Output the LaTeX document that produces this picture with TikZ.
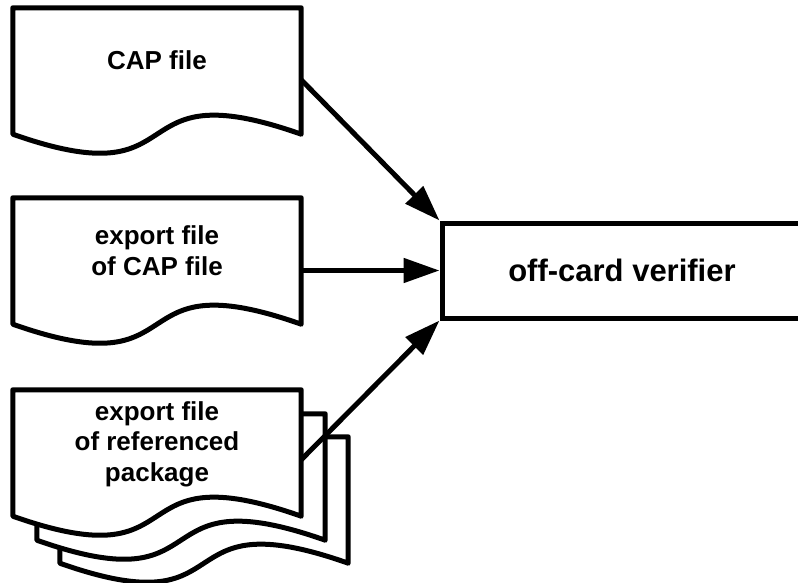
\documentclass[tikz,border=0pt]{standalone}
\usepackage{fontspec}
\setmainfont{Liberation Sans}
\usetikzlibrary{arrows.meta,calc}
\newcommand\docpage[1]{%
  \draw[docline,fill=white] (#1.south west) -- (#1.north west) -- (#1.north east) -- (#1.south east)
    .. controls ($(#1.south east)+(-187,66)$) and ($(#1.south west)+(187,-66)$) .. (#1.south west) -- cycle;}
\begin{document}
\begin{tikzpicture}[x=1pt,y=1pt,
  docline/.style={line width=5pt,line join=round},
  docbox/.style={minimum width=288pt,minimum height=126pt,inner sep=0pt},
  doctext/.style={font=\fontsize{26}{30.5}\selectfont\bfseries,align=center,inner sep=0pt},
  verbox/.style={draw,line width=5pt,fill=white,minimum width=360pt,minimum height=95pt,inner sep=0pt,
    font=\fontsize{31}{36}\selectfont\bfseries},
  arrowline/.style={line width=5pt,-{Triangle[length=36pt,width=24pt]}}]
\useasboundingbox (0,0) rectangle (798,-583);
\clip (0,0) rectangle (798,-583);
\fill[white] (0,0) rectangle (798,-583);
% documents
\node[docbox] (cap) at (157,-71) {};
\docpage{cap}
\node[docbox] (exp) at (157,-261) {};
\docpage{exp}
\node[docbox] (refc) at (204,-500) {};
\docpage{refc}
\node[docbox] (refb) at (181,-477) {};
\docpage{refb}
\node[docbox] (ref) at (157,-453) {};
\docpage{ref}
% texts
\node[doctext] (capt) at (157,-60.5) {CAP file};
\node[doctext] (expt) at (157,-250.5) {export file\\of CAP file};
\node[doctext] (reft) at (157,-444) {export file\\of referenced\\package};
% verifier
\node[verbox] (ver) at (622,-270.5) {off-card verifier};
% arrows
\draw[arrowline] ($(cap.north east)+(0,-72)$) -- (ver.north west);
\draw[arrowline] (ver.west -| exp.east) -- (ver.west);
\draw[arrowline] ($(ref.north east)+(0,-70)$) -- (ver.south west);
\end{tikzpicture}
\end{document}
